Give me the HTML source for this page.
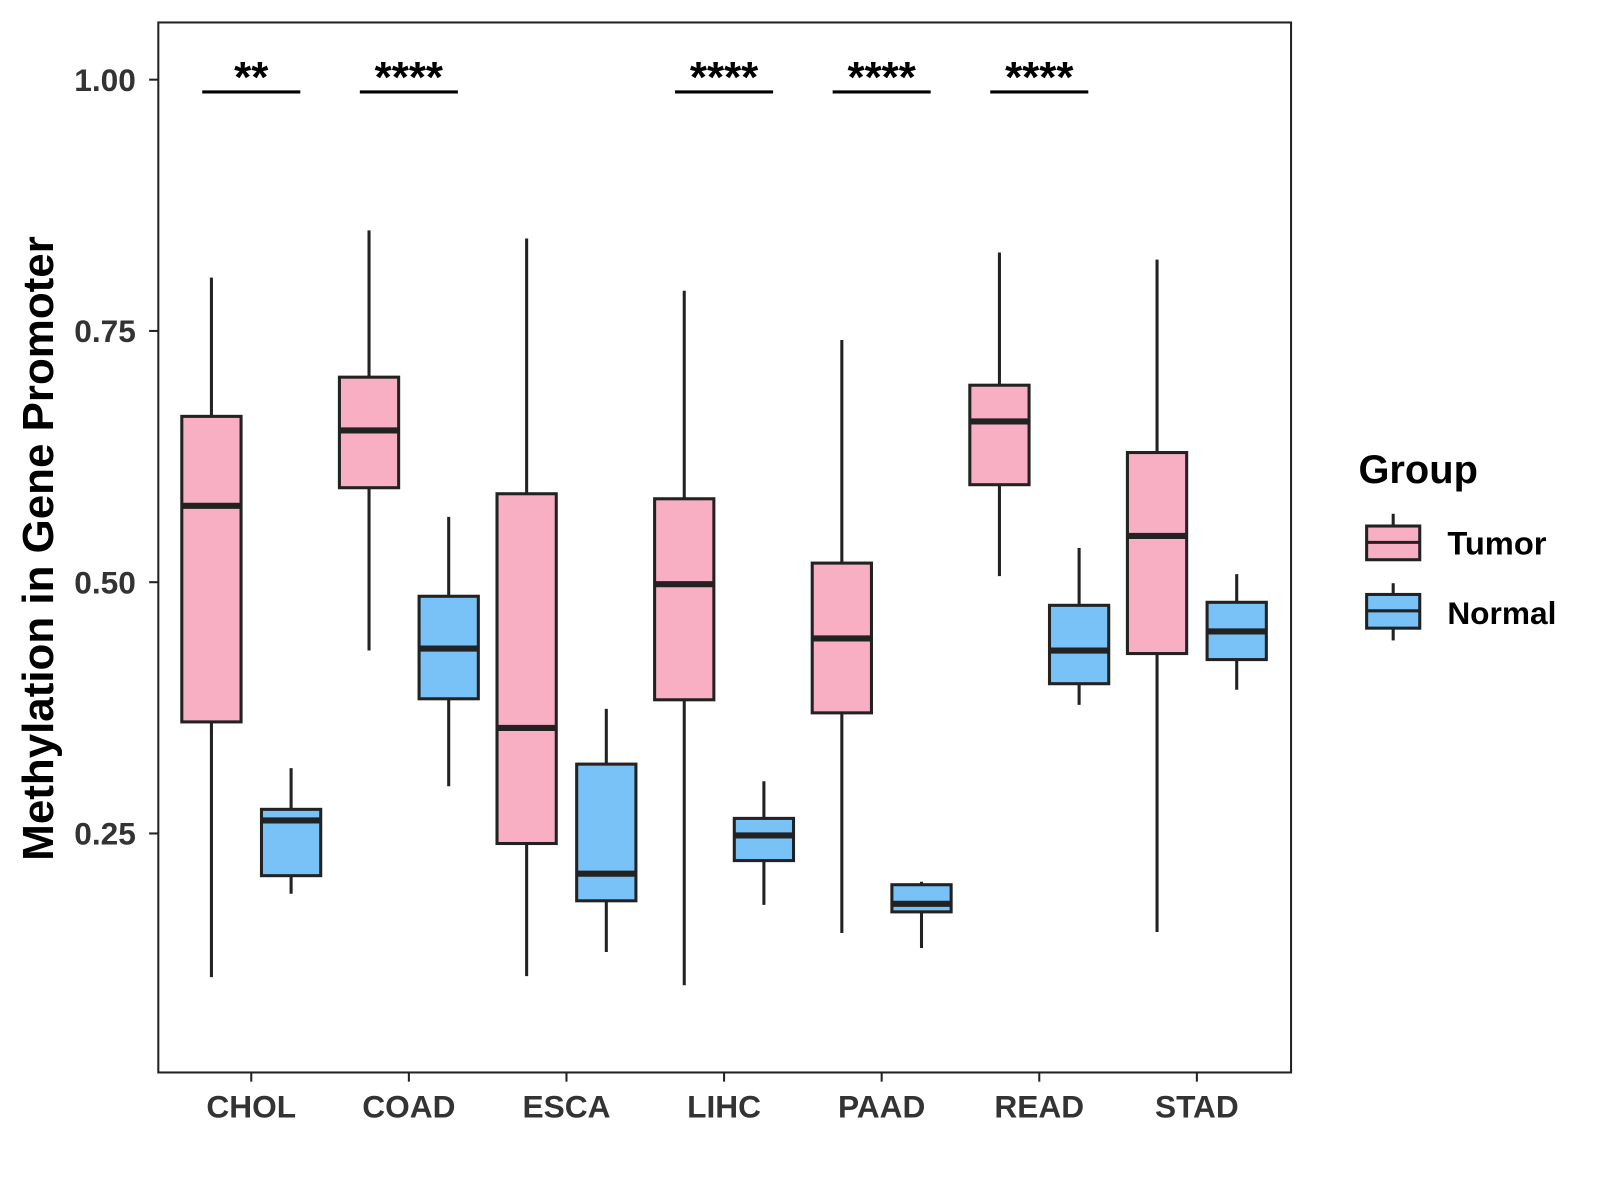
<!DOCTYPE html>
<html><head><meta charset="utf-8"><style>
html,body{margin:0;padding:0;background:#fff;}
svg{display:block;font-family:"Liberation Sans",Arial,sans-serif;}
</style></head><body>
<svg id="chart" width="1600" height="1200" viewBox="0 0 1600 1200">
<rect x="0" y="0" width="1600" height="1200" fill="#fff"/>
<g transform="scale(1.0214)">
<rect x="155" y="22" width="1109" height="1028" fill="none" stroke="#222" stroke-width="2"/>
<g id="marks"></g>
<text x="52" y="537" transform="rotate(-90 52 537)" text-anchor="middle" font-size="43" font-weight="bold" fill="#000">Methylation in Gene Promoter</text>
<g>
<text x="1330" y="473" font-size="39" font-weight="bold" fill="#000">Group</text>
<g>
<line x1="1364" y1="503" x2="1364" y2="548" stroke="#222" stroke-width="3"/>
<rect x="1338" y="515" width="52" height="33" fill="#F9AFC3" stroke="#222" stroke-width="3"/>
<line x1="1338" y1="531" x2="1390" y2="531" stroke="#222" stroke-width="3"/>
<text x="1417" y="543" font-size="32" font-weight="bold" fill="#000">Tumor</text>
</g>
<g>
<line x1="1364" y1="571" x2="1364" y2="627" stroke="#222" stroke-width="3"/>
<rect x="1338" y="582" width="52" height="33" fill="#78C2F7" stroke="#222" stroke-width="3"/>
<line x1="1338" y1="598" x2="1390" y2="598" stroke="#222" stroke-width="3"/>
<text x="1417" y="611" font-size="31" font-weight="bold" fill="#000">Normal</text>
</g>
</g>
</g>
</svg>
<script>
const categories = ["CHOL","COAD","ESCA","LIHC","PAAD","READ","STAD"];
const tumorMin = [0.107,0.432,0.108,0.099,0.151,0.506,0.152];
const tumorQ1  = [0.361,0.594,0.240,0.383,0.370,0.597,0.429];
const tumorMed = [0.576,0.651,0.355,0.498,0.444,0.660,0.546];
const tumorQ3  = [0.665,0.704,0.588,0.583,0.519,0.696,0.629];
const tumorMax = [0.803,0.850,0.842,0.790,0.741,0.828,0.821];
const normalMin = [0.190,0.297,0.132,0.179,0.136,0.378,0.393];
const normalQ1  = [0.208,0.384,0.183,0.223,0.172,0.399,0.423];
const normalMed = [0.263,0.434,0.210,0.248,0.180,0.432,0.451];
const normalQ3  = [0.274,0.486,0.319,0.265,0.199,0.477,0.480];
const normalMax = [0.315,0.565,0.374,0.302,0.202,0.534,0.508];
const signif = ["**","****","","****","****","****",""];
const yTicks = [0.25,0.50,0.75,1.00];
const yTickLabels = ["0.25","0.50","0.75","1.00"];

const NS="http://www.w3.org/2000/svg";
const g=document.querySelector('#marks');
const yScale=v=>78+(1-v)*984;
const xScale=i=>246+i*154.3;
function el(tag,attrs,parent){const e=document.createElementNS(NS,tag);for(const k in attrs)e.setAttribute(k,attrs[k]);(parent||g).appendChild(e);return e;}

yTicks.forEach((t,i)=>{
  const y=yScale(t);
  const tk=el('line',{x1:146,x2:155,y1:y,y2:y,stroke:'#222','stroke-width':2});
  
  
  const tl=el('text',{x:133,y:y+11,'text-anchor':'end','font-size':31,'font-weight':'bold',fill:'#333'});
  tl.textContent=yTickLabels[i];
  
  
});
categories.forEach((c,i)=>{
  const x=xScale(i);
  const tk=el('line',{x1:x,x2:x,y1:1050,y2:1059,stroke:'#222','stroke-width':2});
  
  
  const tl=el('text',{x:x,y:1094,'text-anchor':'middle','font-size':31,'font-weight':'bold',fill:'#333'});
  tl.textContent=c;
  
  
});
function box(cx,mn,q1,md,q3,mx,fill,name){
  const bg=el('g',{});
  
  
  el('line',{x1:cx,x2:cx,y1:yScale(mx),y2:yScale(mn),stroke:'#222','stroke-width':3},bg);
  el('rect',{x:cx-29,y:yScale(q3),width:58,height:yScale(q1)-yScale(q3),fill:fill,stroke:'#222','stroke-width':3},bg);
  el('line',{x1:cx-29,x2:cx+29,y1:yScale(md),y2:yScale(md),stroke:'#222','stroke-width':6},bg);
}
categories.forEach((c,i)=>{
  const x=xScale(i);
  box(x-39,tumorMin[i],tumorQ1[i],tumorMed[i],tumorQ3[i],tumorMax[i],'#F9AFC3','box-'+c.toLowerCase()+'-tumor');
  box(x+39,normalMin[i],normalQ1[i],normalMed[i],normalQ3[i],normalMax[i],'#78C2F7','box-'+c.toLowerCase()+'-normal');
  if(signif[i]){
    const sg=el('g',{});
    
    
    el('line',{x1:x-48,x2:x+48,y1:90,y2:90,stroke:'#000','stroke-width':3},sg);
    const t=el('text',{x:x,y:90,'text-anchor':'middle','font-size':43,'font-weight':'bold',fill:'#000'},sg);
    t.textContent=signif[i];
  }
});
</script>
</body></html>
